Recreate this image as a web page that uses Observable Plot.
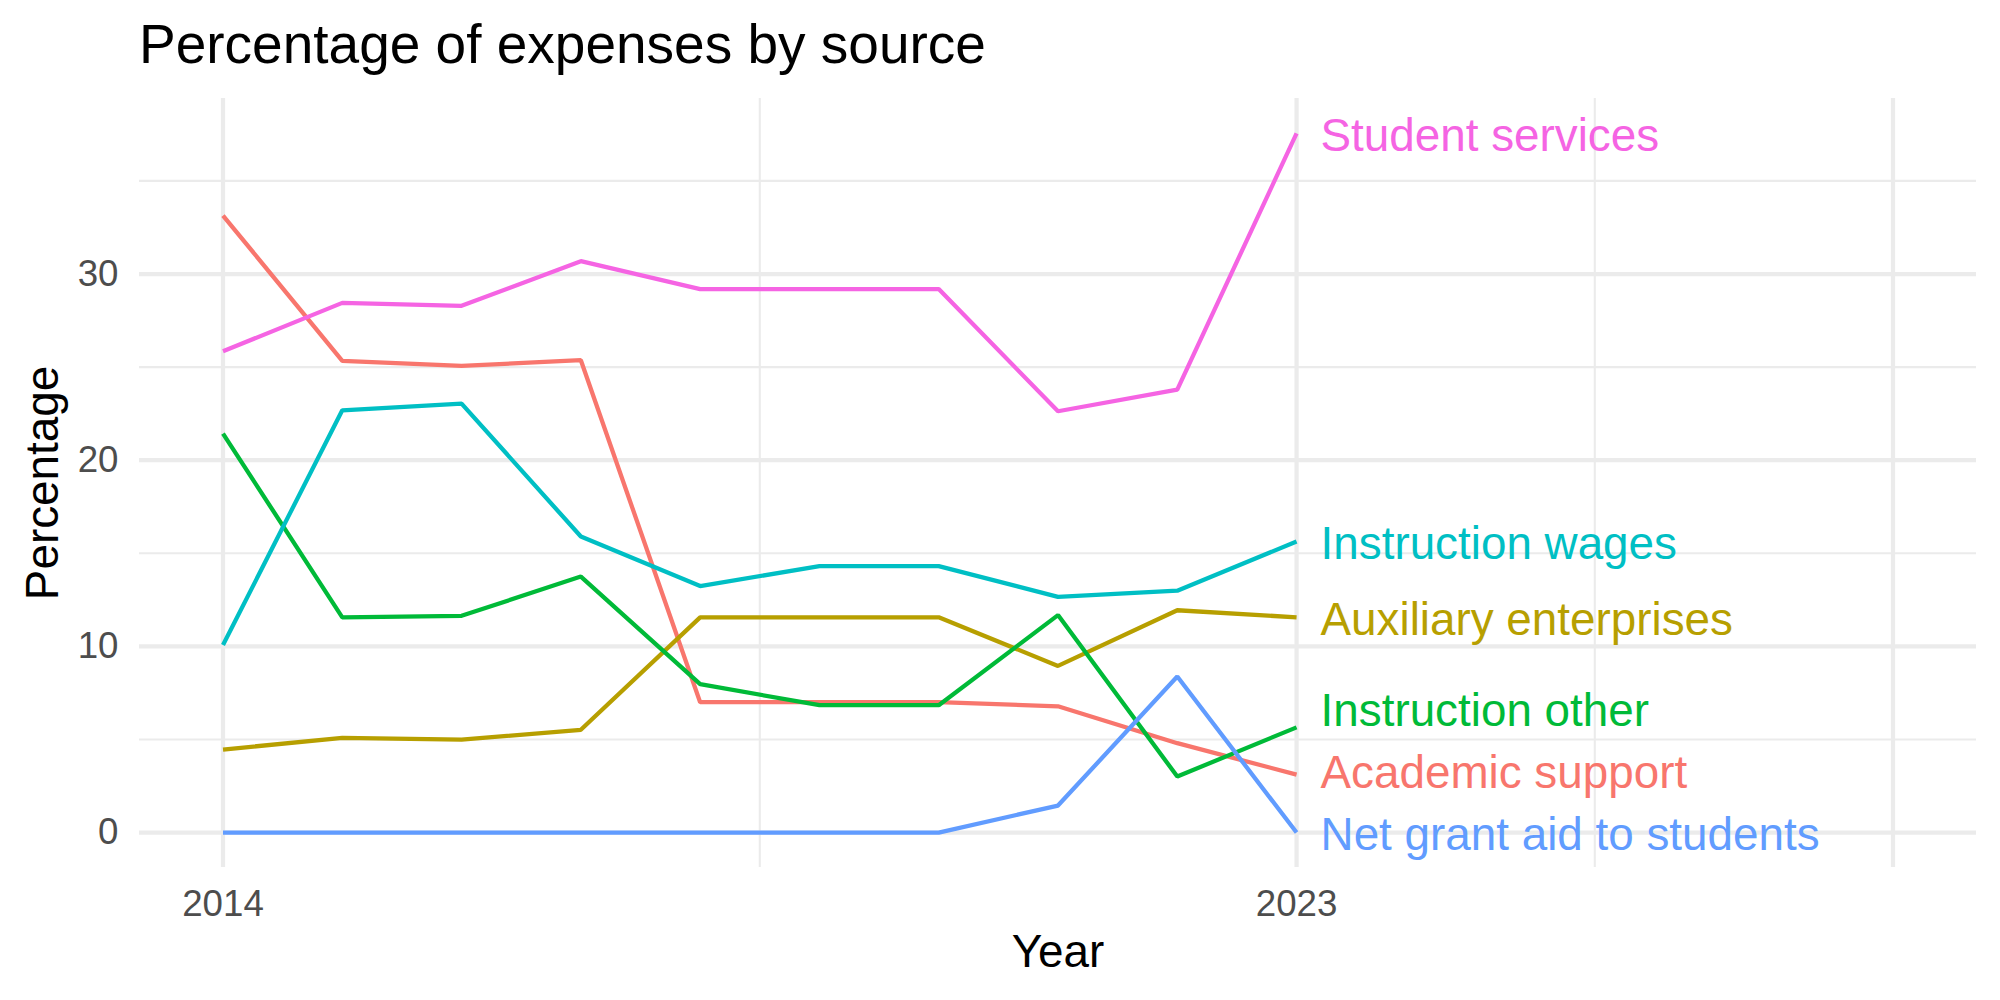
<!DOCTYPE html>
<html><head><meta charset="utf-8">
<script src="https://cdn.jsdelivr.net/npm/d3@7"></script>
<script src="https://cdn.jsdelivr.net/npm/@observablehq/plot@0.6"></script>
<style>
html,body{margin:0;padding:0;background:#fff;}
#title{height:80px;box-sizing:border-box;padding-top:17px;padding-left:139px;font:55px/55px "Liberation Sans",Arial,sans-serif;color:#000;white-space:nowrap;}
#chart svg{display:block;}
</style></head><body>
<div id="title">Percentage of expenses by source</div>
<div id="chart"></div>
<script>
// ---- data ----
const years = [2014, 2015, 2016, 2017, 2018, 2019, 2020, 2021, 2022, 2023];
const seriesNames = ["Academic support", "Auxiliary enterprises", "Instruction other", "Instruction wages", "Net grant aid to students", "Student services"];
const seriesColors = ["#F8766D", "#B79F00", "#00BA38", "#00BFC4", "#619CFF", "#F564E3"];
const academicSupport      = [33.14, 25.34, 25.07, 25.37, 7.00, 7.00, 7.00, 6.78, 4.80, 3.11];
const auxiliaryEnterprises = [4.46, 5.08, 4.99, 5.52, 11.56, 11.56, 11.56, 8.95, 11.94, 11.56];
const instructionOther     = [21.43, 11.56, 11.64, 13.75, 7.97, 6.84, 6.84, 11.68, 3.01, 5.65];
const instructionWages     = [10.07, 22.68, 23.04, 15.90, 13.24, 14.31, 14.31, 12.66, 12.99, 15.63];
const netGrantAid          = [0, 0, 0, 0, 0, 0, 0, 1.45, 8.38, 0];
const studentServices      = [25.85, 28.45, 28.29, 30.69, 29.19, 29.19, 29.19, 22.63, 23.79, 37.55];
const xLimits = [2014, 2028];
const xTickLabels = [2014, 2023];
const xMajorGrid = [2014, 2023, 2028];
const xMinorGrid = [2018.5, 2025.5];
const yMajorTicks = [0, 10, 20, 30];
const yMinorGrid = [5, 15, 25, 35];

// ---- build table ----
const seriesValues = [academicSupport, auxiliaryEnterprises, instructionOther, instructionWages, netGrantAid, studentServices];
const rows = [];
seriesNames.forEach((name, i) => years.forEach((yr, j) => rows.push({series: name, year: yr, value: seriesValues[i][j]})));

// layout
const W = 2000, H = 920, mT = 18, mB = 133, mL = 139, mR = 24;
const allVals = seriesValues.flat();
const yMin = d3.min(allVals), yMax = d3.max(allVals);
const yDomain = [yMin - 0.05 * (yMax - yMin), yMax + 0.05 * (yMax - yMin)];
const xSpan = xLimits[1] - xLimits[0];
const xDomain = [xLimits[0] - 0.05 * xSpan, xLimits[1] + 0.05 * xSpan];

// end labels with simple upward repel
const pxPerUnit = (H - mT - mB) / (yDomain[1] - yDomain[0]);
const gap = 62 / pxPerUnit;
const lastYear = years[years.length - 1];
const labels = seriesNames.map((name, i) => ({series: name, year: lastYear, value: seriesValues[i][years.length - 1]}))
  .sort((a, b) => a.value - b.value);
labels.forEach((d, i) => { d.labelY = i === 0 ? d.value : Math.max(d.value, labels[i - 1].labelY + gap); });

const font = "Liberation Sans, Arial, sans-serif";
const grid = "#EBEBEB";

const chart = Plot.plot({
  width: W, height: H,
  marginTop: mT, marginBottom: mB, marginLeft: mL, marginRight: mR,
  style: {fontFamily: font, background: "#fff"},
  x: {domain: xDomain},
  y: {domain: yDomain},
  color: {domain: seriesNames, range: seriesColors},
  marks: [
    Plot.ruleY(yMinorGrid, {stroke: grid, strokeWidth: 2.13}),
    Plot.ruleX(xMinorGrid, {stroke: grid, strokeWidth: 2.13}),
    Plot.ruleY(yMajorTicks, {stroke: grid, strokeWidth: 4.27}),
    Plot.ruleX(xMajorGrid, {stroke: grid, strokeWidth: 4.27}),
    Plot.line(rows, {x: "year", y: "value", z: "series", stroke: "series", strokeWidth: 4.27, strokeLinejoin: "miter", strokeLinecap: "butt"}),
    Plot.text(labels, {x: "year", y: "labelY", text: "series", fill: "series", textAnchor: "start", lineAnchor: "middle", dx: 24, dy: 3, fontSize: 45.8}),
    Plot.axisX(xTickLabels, {tickSize: 0, tickPadding: 22, fontSize: 36.7, fill: "#4D4D4D", label: null, tickFormat: d => String(d)}),
    Plot.axisY(yMajorTicks, {tickSize: 0, tickPadding: 21, fontSize: 36.7, fill: "#4D4D4D", label: null}),
    Plot.text(["Year"], {frameAnchor: "bottom", textAnchor: "middle", dy: 99, lineAnchor: "bottom", fontSize: 45.8, fill: "#000"}),
    Plot.text(["Percentage"], {frameAnchor: "left", textAnchor: "middle", dx: -82, rotate: -90, lineAnchor: "bottom", fontSize: 45.8, fill: "#000"})
  ]
});
document.getElementById("chart").appendChild(chart);
</script>
</body></html>
